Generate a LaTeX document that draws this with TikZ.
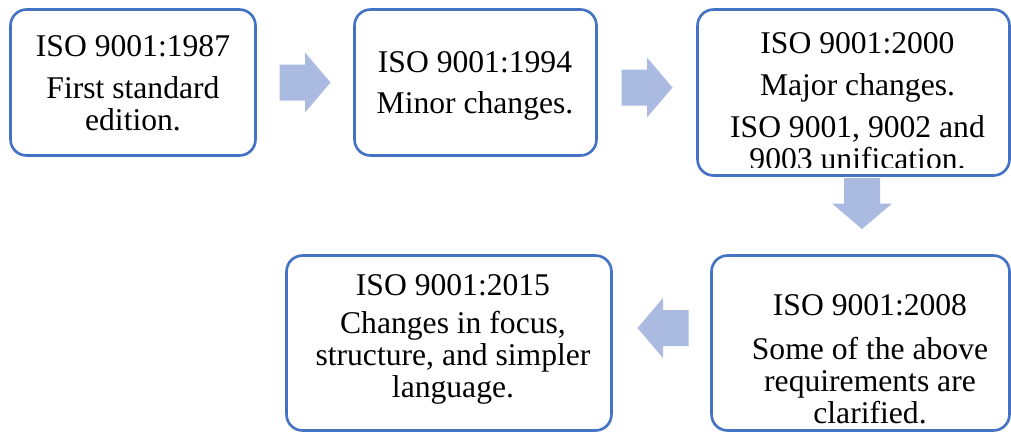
\documentclass[tikz,border=0pt]{standalone}
\usepackage{fontspec}
\setmainfont{Liberation Serif}
\usepackage{xcolor}
\usepackage{tikz}
\usetikzlibrary{calc}

\definecolor{boxblue}{RGB}{68,114,196}
\definecolor{arrowblue}{RGB}{170,186,224}

\begin{document}
\begin{tikzpicture}[>=latex,x=0.02cm,y=-0.02cm,
  stagebox/.style={draw=boxblue,line width=1.5pt,fill=white,rounded corners=0.32cm,
    inner sep=0pt,outer sep=0pt},
  stagetext/.style={align=center,inner sep=0pt,anchor=base,
    font=\fontsize{18}{18}\selectfont},
  ]

  \def\blockarrow#1#2{
    \begin{scope}[shift={#1}, rotate=#2]
      \fill[arrowblue] (-25.5,-18) -- (0,-18) -- (0,-30) -- (25.5,0) --
      (0,30) -- (0,18) -- (-25.5,18) -- cycle;
    \end{scope}
  }
  \useasboundingbox (0,0) rectangle (1011,434);

  % the five editions
  \node[stagebox,minimum width=4.90cm,minimum height=2.92cm] (b1987) at (133,82.5) {};
  \node[stagebox,minimum width=4.84cm,minimum height=2.92cm] (b1994) at (475.5,82.5) {};
  \node[stagebox,minimum width=6.24cm,minimum height=3.32cm] (b2000) at (853.5,92.5) {};
  \node[stagebox,minimum width=5.96cm,minimum height=3.50cm] (b2008) at (860.5,343) {};
  \node[stagebox,minimum width=6.50cm,minimum height=3.50cm] (b2015) at (449,343) {};

  % base = baseline of the last line
  \node[stagetext] (t1987) at (133,130) {ISO 9001:1987\\[6pt] First standard\\ edition.};
  \node[stagetext] (t1994) at (475,113) {ISO 9001:1994\\[5pt] Minor changes.};
  \begin{scope}
    \clip (697.5,9.5) rectangle (1009.5,167);
    \node[stagetext] (t2000) at (857.5,169) {ISO 9001:2000\\[6pt] Major changes.\\[6pt]
      ISO 9001, 9002 and\\ 9003 unification.};
  \end{scope}
  \node[stagetext] (t2008) at (870,423) {ISO 9001:2008\\[7pt] Some of the above\\
    requirements are\\ clarified.};
  \node[stagetext] (t2015) at (453,397) {ISO 9001:2015\\[4pt] Changes in focus,\\
    structure, and simpler\\ language.};

  % block arrows between them
  \blockarrow{($(b1987.east)!0.5!(b1994.west)$)}{0}
  \blockarrow{($(b1994.east)!0.5!(b2000.west)$)}{0}
  \blockarrow{($(b2008.north)+(1.5,-52)$)}{-90}
  \blockarrow{($(b2015.east)!0.5!(b2008.west)+(1.5,-15)$)}{180}

\end{tikzpicture}
\end{document}
